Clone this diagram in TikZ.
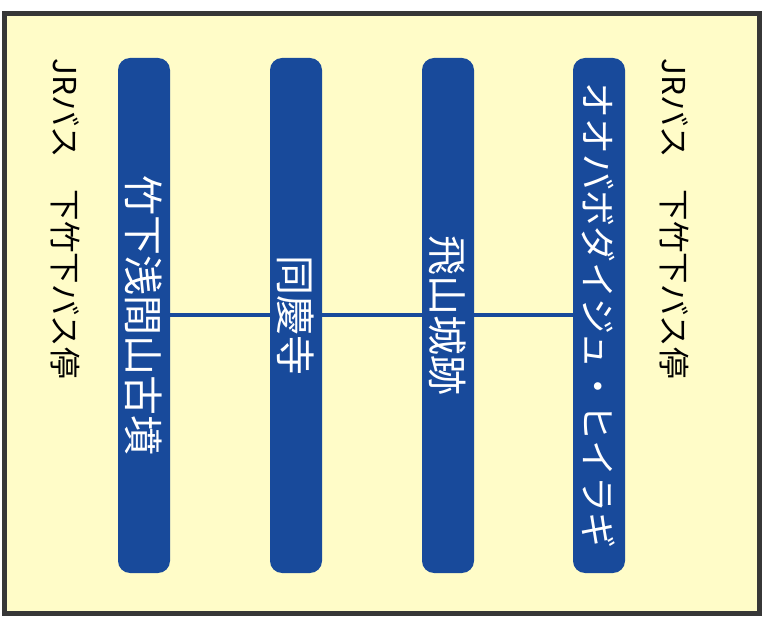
\documentclass[tikz,border=0pt]{standalone}
\usepackage{fontspec}
\setmainfont{Noto Sans CJK JP}
\usetikzlibrary{positioning}
\definecolor{routeblue}{RGB}{24,74,155}
\definecolor{paper}{RGB}{255,252,200}
\definecolor{framegrey}{RGB}{55,55,55}

\begin{document}
\begin{tikzpicture}[x=1pt,y=1pt,
  stopbar/.style={rotate=-90,fill=routeblue,text=white,rounded corners=12pt,
    minimum width=515pt,minimum height=52pt,inner sep=0pt,
    font=\fontsize{40}{40}\selectfont},
  sidelabel/.style={rotate=-90,anchor=west,inner sep=0pt,
    font=\fontsize{31.5}{31.5}\selectfont},
  link/.style={draw=routeblue,line width=4pt}]
\useasboundingbox (0,0) rectangle (772,622);
\draw[line width=5pt,draw=framegrey,fill=paper] (4.5,8.5) rectangle (759.5,608.5);

\node[stopbar] (s1) at (144,306.5) {竹下浅間山古墳};
\node[stopbar] (s2) at (296,306.5) {同慶寺};
\node[stopbar] (s3) at (448,306.5) {飛山城跡};
\node[stopbar,font=\fontsize{36}{36}\selectfont] (s4) at (599,306.5) {オオバボダイジュ・ヒイラギ};

\draw[link] (s1) -- (s2);
\draw[link] (s2) -- (s3);
\draw[link] (s3) -- (s4);

\node[sidelabel] (busl) at (65,564) {JRバス　下竹下バス停};
\node[sidelabel] (busr) at (674,564) {JRバス　下竹下バス停};
\end{tikzpicture}
\end{document}
